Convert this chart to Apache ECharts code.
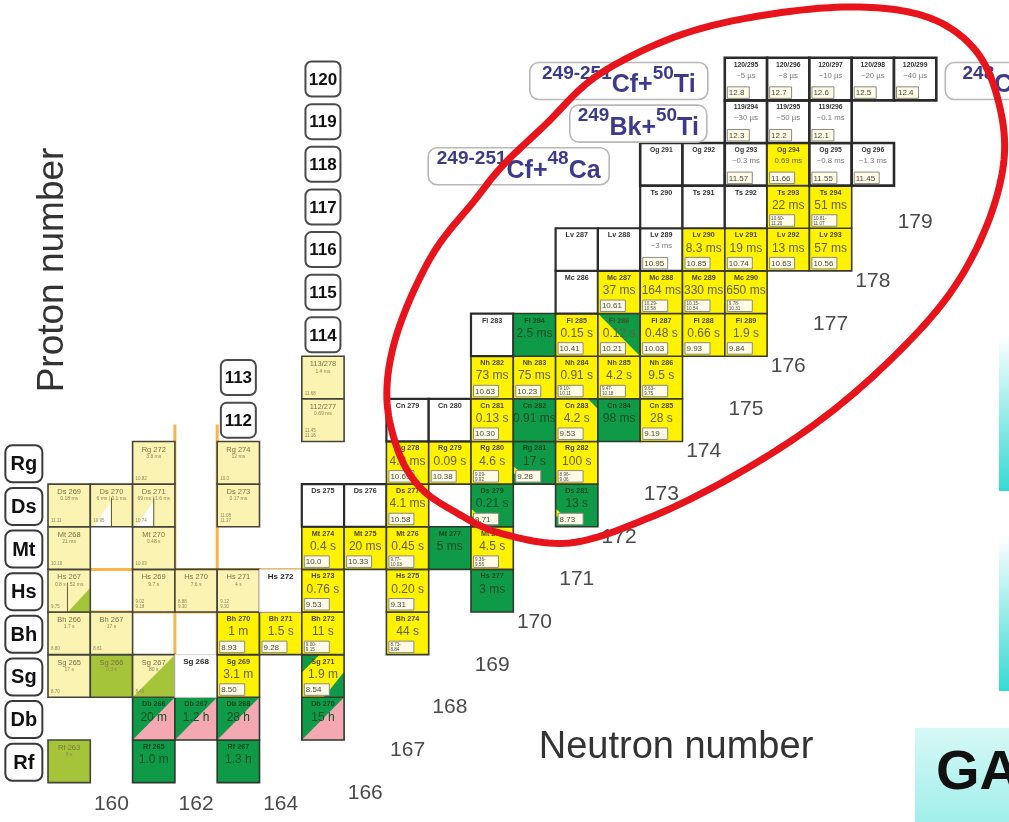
<!DOCTYPE html>
<html>
<head>
<meta charset="utf-8">
<title>Superheavy nuclides</title>
<script src="https://cdn.jsdelivr.net/npm/echarts@6/dist/echarts.min.js"></script>
<style>
html,body{margin:0;padding:0;background:#ffffff;}
#chart{width:1009px;height:822px;}
</style>
</head>
<body>
<div id="chart"></div>
<script>
// Element symbols by proton number
const elementSymbols = {104:'Rf',105:'Db',106:'Sg',107:'Bh',108:'Hs',109:'Mt',110:'Ds',111:'Rg',112:'Cn',113:'Nh',114:'Fl',115:'Mc',116:'Lv',117:'Ts',118:'Og'};
// Row labels on the left, starting at Z = 104
const rowSymbols = ['Rf','Db','Sg','Bh','Hs','Mt','Ds','Rg'];
const rowSymbolFirstZ = 104;
// Proton numbers shown in boxes above the body of the chart
const protonNumberBoxes = [112,113,114,115,116,117,118,119,120];
// Neutron numbers written along the lower edge
const neutronTicks = [160,162,164,166,167,168,169,170,171,172,173,174,175,176,177,178,179];
// Deformed shell closures
const deformedShell = {N:162, Z:108};

// Nuclides per element row: [N, decay class, half-life, alpha energy in MeV]
// a = alpha, sf = fission, ec = fission/EC, n = expected, w = unobserved,
// p = earlier data, po = earlier fission; the rest are split cells
const rf104 = [[159,'po','8 s',''],[161,'sf','1.0 m',''],[163,'sf','1.3 h','']];
const db105 = [[161,'ec','20 m',''],[162,'ec','1.2 h',''],[163,'ec','28 h',''],[165,'ec','15 h','']];
const sg106 = [[159,'p','17 s','8.70'],[160,'po','0.3 s',''],[161,'p/po','80 s','8.40'],[162,'w','',''],[163,'a','3.1 m','8.50'],[165,'a/sf2','1.9 m','8.54']];
const bh107 = [[159,'p','1.7 s','8.80'],[160,'p','17 s','8.61'],[163,'a','1 m','8.93'],[164,'a','1.5 s','9.28'],[165,'a','11 s','9.00-\n9.15'],[167,'a','44 s','8.73-\n8.84']];
const hs108 = [[159,'p+po','0.8 s | 52 ms','9.75'],[161,'p','9.7 s','9.02\n9.18'],[162,'p','7.6 s','8.88\n9.30'],[163,'p','4 s','9.12\n9.30'],[164,'w','',''],[165,'a','0.76 s','9.53'],[167,'a','0.20 s','9.31'],[169,'sf','3 ms','']];
const mt109 = [[159,'p','21 ms','10.10'],[161,'p','0.48 s','10.03'],[165,'a','0.4 s','10.0'],[166,'a','20 ms','10.33'],[167,'a','0.45 s','9.77-\n10.03'],[168,'sf','5 ms',''],[169,'a','4.5 s','9.36-\n9.56']];
const ds110 = [[159,'p','0.18 ms','11.11'],[160,'p+m','6 ms | 0.1 ms','10.95'],[161,'p+m','69 ms | 1.6 ms','10.74'],[163,'p','0.17 ms','11.08\n11.37'],[165,'n','',''],[166,'n','',''],[167,'a','4.1 ms','10.58'],[169,'sf+a','0.21 s','9.71'],[171,'sf+a','13 s','8.73']];
const rg111 = [[161,'p','3.8 ms','10.82'],[163,'p','12 ms','10.0'],[167,'a','4.2 ms','10.69'],[168,'a','0.09 s','10.38'],[169,'a','4.6 s','9.09-\n9.92'],[170,'sf+a','17 s','9.28'],[171,'a','100 s','8.96-\n9.06']];
const cn112 = [[165,'p','0.69 ms','11.45\n11.16'],[167,'n','',''],[168,'n','',''],[169,'a','0.13 s','10.30'],[170,'sf','0.91 ms',''],[171,'a+sf','4.2 s','9.53'],[172,'sf','98 ms',''],[173,'a','28 s','9.19']];
const nh113 = [[165,'p','1.4 ms','11.68'],[169,'a','73 ms','10.63'],[170,'a','75 ms','10.23'],[171,'a','0.91 s','9.10-\n10.11'],[172,'a','4.2 s','9.47-\n10.18'],[173,'a','9.5 s','9.63-\n9.75']];
const fl114 = [[169,'n','',''],[170,'sf','2.5 ms',''],[171,'a','0.15 s','10.41'],[172,'a/sf','0.12 s','10.21'],[173,'a','0.48 s','10.03'],[174,'a','0.66 s','9.93'],[175,'a','1.9 s','9.84']];
const mc115 = [[171,'n','',''],[172,'a','37 ms','10.61'],[173,'a','164 ms','10.29-\n10.58'],[174,'a','330 ms','10.15-\n10.54'],[175,'a','650 ms','9.78-\n10.31']];
const lv116 = [[171,'n','',''],[172,'n','',''],[173,'n','~3 ms','10.95'],[174,'a','8.3 ms','10.85'],[175,'a','19 ms','10.74'],[176,'a','13 ms','10.63'],[177,'a','57 ms','10.56']];
const ts117 = [[173,'n','',''],[174,'n','',''],[175,'n','',''],[176,'a','22 ms','10.60-\n11.20'],[177,'a','51 ms','10.81-\n11.07']];
const og118 = [[173,'n','',''],[174,'n','',''],[175,'n','~0.3 ms','11.57'],[176,'a','0.69 ms','11.66'],[177,'n','~0.8 ms','11.55'],[178,'n','~1.3 ms','11.45']];
const e119 = [[175,'n','~30 µs','12.3'],[176,'n','~50 µs','12.2'],[177,'n','~0.1 ms','12.1']];
const e120 = [[175,'n','~5 µs','12.8'],[176,'n','~8 µs','12.7'],[177,'n','~10 µs','12.6'],[178,'n','~20 µs','12.5'],[179,'n','~40 µs','12.4']];

// Fusion reactions: [target mass, target, projectile mass, projectile]
const reactions = [['249-251','Cf','50','Ti'],['249','Bk','50','Ti'],['249-251','Cf','48','Ca'],['248','Cm','54','Cr']];

const rowsByZ = {104:rf104,105:db105,106:sg106,107:bh107,108:hs108,109:mt109,110:ds110,111:rg111,112:cn112,113:nh113,114:fl114,115:mc115,116:lv116,117:ts117,118:og118,119:e119,120:e120};

const cells = [];
Object.keys(rowsByZ).forEach(function (zk) {
  const z = +zk;
  rowsByZ[zk].forEach(function (r) {
    cells.push({z: z, n: r[0], mode: r[1], life: r[2], energy: r[3]});
  });
});

const FONT = '"Liberation Sans", Arial, Helvetica, sans-serif';
const YEL = '#fff200', GRN = '#0f9a48', PALE = '#fbf3b2', OLIVE = '#a6c43a', PINK = '#f4a9b2';

const MODES = {
  'a':    {fill: YEL,  stroke: '#3a3a30', lw: 1.6, tone: 'y'},
  'sf':   {fill: GRN,  stroke: '#2a3a2c', lw: 1.6, tone: 'g'},
  'n':    {fill: '#ffffff', stroke: '#2b2b2b', lw: 2.2, tone: 'n'},
  'w':    {fill: '#ffffff', stroke: '#d4d4d4', lw: 1, tone: 'w'},
  'p':    {fill: PALE, stroke: '#45443a', lw: 1.6, tone: 'p'},
  'po':   {fill: OLIVE, stroke: '#45443a', lw: 1.6, tone: 'p'},
  'ec':   {fill: PINK, stroke: '#2a3a2c', lw: 1.6, tone: 'g', tris: [{fill: GRN, pts: [[0,0],[1,0],[0,1]]}]},
  'a/sf': {fill: YEL,  stroke: '#3a3a30', lw: 1.6, tone: 'y', tris: [{fill: GRN, pts: [[0,0],[1,0],[1,1]]}]},
  'a+sf': {fill: YEL,  stroke: '#3a3a30', lw: 1.6, tone: 'y', tris: [{fill: GRN, pts: [[0.76,0],[1,0],[1,0.24]]}]},
  'sf+a': {fill: GRN,  stroke: '#2a3a2c', lw: 1.6, tone: 'g', tris: [{fill: YEL, pts: [[0,0.58],[0.22,0.76],[0,0.76]]}]},
  'p/po': {fill: PALE, stroke: '#45443a', lw: 1.6, tone: 'p', tris: [{fill: OLIVE, pts: [[1,0],[1,1],[0,1]]}]},
  'p+po': {fill: PALE, stroke: '#45443a', lw: 1.6, tone: 'p', tris: [{fill: OLIVE, pts: [[0.47,1],[1,0.43],[1,1]]}], rules: [[0.46,0.32,0.46,1]]},
  'p+m':  {fill: PALE, stroke: '#45443a', lw: 1.6, tone: 'p', tris: [{fill: '#ffffff', pts: [[0.08,1],[0.48,0.42],[0.48,1]]}], rules: [[0.5,0.32,0.5,1]]},
  'a/sf2':{fill: YEL,  stroke: '#3a3a30', lw: 1.6, tone: 'y', tris: [{fill: GRN, pts: [[0,0],[0.42,0],[0,0.42]]}, {fill: GRN, pts: [[1,0.4],[1,1],[0.52,1]]}]}
};

const TONES = {
  y: {title: '#4b481c', life: '#646136', weight: 'bold'},
  g: {title: '#0d4720', life: '#134c26', weight: 'bold'},
  n: {title: '#333333', life: '#7a7a7a', weight: 'bold'},
  w: {title: '#2a2a2a', life: '#777777', weight: 'bold'},
  p: {title: '#7a7148', life: '#8e855b', weight: 'normal'}
};

function cellBox(api, n, z) {
  const a = api.coord([n - 0.5, z + 0.5]);
  const b = api.coord([n + 0.5, z - 0.5]);
  return {x: a[0], y: a[1], w: b[0] - a[0], h: b[1] - a[1]};
}

function cellName(c) {
  const mass = c.z + c.n;
  const m = MODES[c.mode];
  if (c.z >= 119 || (m.tone === 'p' && c.z >= 112)) return c.z + '/' + mass;
  return elementSymbols[c.z] + ' ' + mass;
}

function renderCell(params, api) {
  const c = cells[params.dataIndex];
  const r = cellBox(api, c.n, c.z);
  const m = MODES[c.mode];
  const t = TONES[m.tone];
  const heavy = c.z >= 118;
  const kids = [];
  kids.push({type: 'rect', shape: {x: r.x, y: r.y, width: r.w, height: r.h}, style: {fill: m.fill}});
  (m.tris || []).forEach(function (tr) {
    kids.push({type: 'polygon', shape: {points: tr.pts.map(function (p) { return [r.x + p[0] * r.w, r.y + p[1] * r.h]; })}, style: {fill: tr.fill}});
  });
  (m.rules || []).forEach(function (l) {
    kids.push({type: 'line', shape: {x1: r.x + l[0] * r.w, y1: r.y + l[1] * r.h, x2: r.x + l[2] * r.w, y2: r.y + l[3] * r.h}, style: {stroke: '#5a5640', lineWidth: 1}});
  });
  const lw = (m.tone === 'n' && heavy) ? 2.6 : m.lw;
  kids.push({type: 'rect', shape: {x: r.x, y: r.y, width: r.w, height: r.h}, style: {fill: 'none', stroke: m.stroke, lineWidth: lw}});

  // nuclide name
  const titleSize = m.tone === 'p' ? 7.5 : (m.tone === 'w' ? 8 : (heavy ? 6.8 : 7.2));
  kids.push({type: 'text', style: {
    text: cellName(c), x: r.x + r.w / 2, y: r.y + (m.tone === 'p' ? 4 : 3.5),
    align: 'center', verticalAlign: 'top', fill: t.title,
    fontSize: titleSize, fontWeight: t.weight, fontFamily: FONT
  }});

  // half-life
  if (c.life) {
    let size = 12, yy = r.y + 20;
    if (m.tone === 'p') { size = 5; yy = r.y + 15; }
    else if (heavy || m.tone === 'n') { size = 7.8; yy = r.y + 18; }
    kids.push({type: 'text', style: {
      text: c.life, x: r.x + r.w / 2, y: yy, align: 'center', verticalAlign: 'middle',
      fill: t.life, fontSize: size, fontFamily: FONT
    }});
  }

  // alpha energy
  if (c.energy) {
    const two = c.energy.indexOf('\n') >= 0;
    if (m.tone === 'p') {
      kids.push({type: 'text', style: {
        text: c.energy, x: r.x + 3, y: r.y + r.h - 3, align: 'left', verticalAlign: 'bottom',
        fill: t.life, fontSize: 4.5, lineHeight: 5, fontFamily: FONT
      }});
    } else {
      const bw = c.z >= 119 ? 22 : 25;
      const bh = 11.5;
      const bx = r.x + 2.5, by = r.y + r.h - bh - 2;
      kids.push({type: 'rect', shape: {x: bx, y: by, width: bw, height: bh}, style: {fill: '#fffbe6', stroke: '#8a8a80', lineWidth: 1}});
      kids.push({type: 'text', style: {
        text: c.energy, x: bx + 1.5, y: by + bh / 2 + 0.5, align: 'left', verticalAlign: 'middle',
        fill: '#4a4a40', fontSize: two ? 4.6 : 8, lineHeight: two ? 5 : 9, fontFamily: FONT
      }});
    }
  }
  return {type: 'group', children: kids};
}

function renderShell(params, api) {
  const n = deformedShell.N, z = deformedShell.Z;
  const style = {stroke: '#f7b54a', lineWidth: 3};
  const kids = [];
  [n - 0.5, n + 0.5].forEach(function (nx) {
    const p1 = api.coord([nx, 111.9]), p2 = api.coord([nx, 104.5]);
    kids.push({type: 'line', shape: {x1: p1[0], y1: p1[1], x2: p2[0], y2: p2[1]}, style: style});
  });
  [z - 0.5, z + 0.5].forEach(function (zy) {
    const p1 = api.coord([158.5, zy]), p2 = api.coord([165.5, zy]);
    kids.push({type: 'line', shape: {x1: p1[0], y1: p1[1], x2: p2[0], y2: p2[1]}, style: style});
  });
  return {type: 'group', children: kids};
}

function renderRowSymbol(params, api) {
  const z = rowSymbolFirstZ + params.dataIndex;
  const c = api.coord([158, z]);
  const cx = c[0] - 3, cy = c[1] + 1;
  return {type: 'group', children: [
    {type: 'rect', shape: {x: cx - 18.5, y: cy - 18.5, width: 37, height: 37, r: 7}, style: {fill: '#ffffff', stroke: '#3a3a3a', lineWidth: 2}},
    {type: 'text', style: {text: rowSymbols[params.dataIndex], x: cx, y: cy + 1, align: 'center', verticalAlign: 'middle', fill: '#111111', fontSize: 20, fontWeight: 'bold', fontFamily: FONT}}
  ]};
}

function renderProtonBox(params, api) {
  const z = protonNumberBoxes[params.dataIndex];
  const col = z <= 113 ? 163 : 165;
  const c = api.coord([col, z]);
  return {type: 'group', children: [
    {type: 'rect', shape: {x: c[0] - 17.5, y: c[1] - 17.5, width: 35, height: 35, r: 6}, style: {fill: '#ffffff', stroke: '#4a4a4a', lineWidth: 2}},
    {type: 'text', style: {text: String(z), x: c[0], y: c[1] + 1, align: 'center', verticalAlign: 'middle', fill: '#111111', fontSize: 17, fontWeight: 'bold', fontFamily: FONT}}
  ]};
}

function neutronTickZ(n) {
  // labels follow the lower-right edge of the occupied region
  return n === 179 ? 116.65 : Math.max(103, n - 62.74);
}

function renderNeutronTick(params, api) {
  const n = neutronTicks[params.dataIndex];
  const c = api.coord([n, neutronTickZ(n)]);
  return {type: 'text', style: {text: String(n), x: c[0], y: c[1], align: 'center', verticalAlign: 'middle', fill: '#4a4a4a', fontSize: 21, fontFamily: FONT}};
}

// reaction label placement: row, anchor column edge, side, gap and box width
const reactionLayout = [
  {z: 120, edge: 174.5, side: 'right', gap: 17, w: 178},
  {z: 119, edge: 174.5, side: 'right', gap: 18, w: 137},
  {z: 118, edge: 172.5, side: 'right', gap: 31, w: 181},
  {z: 120, edge: 179.5, side: 'left', gap: 9, w: 170}
];

function renderReaction(params, api) {
  const i = params.dataIndex;
  const rx = reactions[i], lay = reactionLayout[i];
  const e = api.coord([lay.edge, lay.z]);
  const x0 = lay.side === 'right' ? e[0] - lay.gap - lay.w : e[0] + lay.gap;
  const cy = e[1] + 2;
  const ink = '#3d3a8e';
  return {type: 'group', children: [
    {type: 'rect', shape: {x: x0, y: cy - 18.5, width: lay.w, height: 37, r: 9}, style: {fill: '#ffffff', stroke: '#b8b8b8', lineWidth: 1.6}},
    {type: 'text', style: {
      text: '{s|' + rx[0] + '}{m|' + rx[1] + '+}{s|' + rx[2] + '}{m|' + rx[3] + '}',
      x: x0 + lay.w / 2, y: cy, align: 'center', verticalAlign: 'middle',
      rich: {
        s: {fontSize: 19, fontWeight: 'bold', fill: ink, fontFamily: FONT, verticalAlign: 'top', lineHeight: 19},
        m: {fontSize: 25, fontWeight: 'bold', fill: ink, fontFamily: FONT, verticalAlign: 'bottom', lineHeight: 34}
      }
    }}
  ]};
}

// hand-drawn highlight ring around the heaviest nuclei, in (N, Z) units
const ringOutline = [
  [171.50,120.09],[173.44,121.03],[175.57,121.52],[177.70,121.69],[179.35,121.43],
  [180.42,120.68],[180.96,119.51],[181.10,118.10],[180.65,116.46],[179.71,114.82],
  [178.17,113.18],[176.51,111.82],[174.62,110.64],[172.71,109.71],[170.84,109.12],
  [169.19,109.35],[168.12,109.85],[167.29,110.43],[166.77,111.30],[166.51,112.59],
  [166.77,114.09],[167.58,115.87],[168.59,117.16],[169.26,117.98],[170.25,118.92]
];

function renderRing(params, api) {
  const P = ringOutline.map(function (p) { return api.coord(p); });
  const pts = [];
  const k = P.length;
  for (let i = 0; i < k; i++) {
    const p0 = P[(i - 1 + k) % k], p1 = P[i], p2 = P[(i + 1) % k], p3 = P[(i + 2) % k];
    for (let s = 0; s < 14; s++) {
      const t = s / 14, t2 = t * t, t3 = t2 * t;
      const q = [0, 1].map(function (d) {
        return 0.5 * (2 * p1[d] + (-p0[d] + p2[d]) * t + (2 * p0[d] - 5 * p1[d] + 4 * p2[d] - p3[d]) * t2 + (-p0[d] + 3 * p1[d] - 3 * p2[d] + p3[d]) * t3);
      });
      pts.push(q);
    }
  }
  return {type: 'polygon', shape: {points: pts}, style: {fill: 'none', stroke: '#e8141c', lineWidth: 7, lineJoin: 'round'}};
}

const chart = echarts.init(document.getElementById('chart'));
chart.setOption({
  animation: false,
  backgroundColor: '#ffffff',
  grid: {left: 48, top: 57.7, width: 22 * 42.3, height: 17 * 42.64, containLabel: false},
  xAxis: {type: 'value', min: 158.5, max: 180.5, show: false},
  yAxis: {type: 'value', min: 103.5, max: 120.5, show: false},
  graphic: [
    {type: 'rect', left: 999, top: 335, shape: {width: 14, height: 156}, style: {fill: new echarts.graphic.LinearGradient(0, 0, 0, 1, [{offset: 0, color: '#ffffff'}, {offset: 1, color: '#36d9d2'}])}, z: 0},
    {type: 'rect', left: 999, top: 535, shape: {width: 14, height: 156}, style: {fill: new echarts.graphic.LinearGradient(0, 0, 0, 1, [{offset: 0, color: '#ffffff'}, {offset: 1, color: '#36d9d2'}])}, z: 0},
    {type: 'rect', left: 915, top: 728, shape: {width: 100, height: 100}, style: {fill: new echarts.graphic.LinearGradient(0, 0, 0, 1, [{offset: 0, color: '#d6f8f6'}, {offset: 1, color: '#9eeeea'}])}, z: 0},
    {type: 'text', x: 936, y: 774, style: {text: 'GA', fill: '#111111', fontSize: 56, fontWeight: 'bold', fontFamily: FONT, align: 'left', verticalAlign: 'middle'}, z: 1},
    {type: 'text', x: 53, y: 270, rotation: Math.PI / 2, style: {text: 'Proton number', fill: '#333333', fontSize: 37, fontFamily: FONT, align: 'center', verticalAlign: 'middle'}, z: 1},
    {type: 'text', x: 676, y: 748, style: {text: 'Neutron number', fill: '#333333', fontSize: 38, fontFamily: FONT, align: 'center', verticalAlign: 'middle'}, z: 1}
  ],
  series: [
    {type: 'custom', name: 'shell', coordinateSystem: 'cartesian2d', silent: true, z: 1,
      data: [[deformedShell.N, deformedShell.Z]], renderItem: renderShell},
    {type: 'custom', name: 'nuclides', coordinateSystem: 'cartesian2d', silent: true, z: 2,
      data: cells.map(function (c) { return [c.n, c.z]; }), renderItem: renderCell},
    {type: 'custom', name: 'elements', coordinateSystem: 'cartesian2d', silent: true, z: 3,
      data: rowSymbols.map(function (s, i) { return [158, rowSymbolFirstZ + i]; }), renderItem: renderRowSymbol},
    {type: 'custom', name: 'protons', coordinateSystem: 'cartesian2d', silent: true, z: 3,
      data: protonNumberBoxes.map(function (z) { return [z <= 113 ? 163 : 165, z]; }), renderItem: renderProtonBox},
    {type: 'custom', name: 'neutrons', coordinateSystem: 'cartesian2d', silent: true, z: 3,
      data: neutronTicks.map(function (n) { return [n, neutronTickZ(n)]; }), renderItem: renderNeutronTick},
    {type: 'custom', name: 'reactions', coordinateSystem: 'cartesian2d', silent: true, z: 3,
      data: reactions.map(function (r, i) { return [reactionLayout[i].edge, reactionLayout[i].z]; }), renderItem: renderReaction},
    {type: 'custom', name: 'ring', coordinateSystem: 'cartesian2d', silent: true, z: 6,
      data: [[173.8, 115.36]], renderItem: renderRing}
  ]
});
</script>
</body>
</html>
